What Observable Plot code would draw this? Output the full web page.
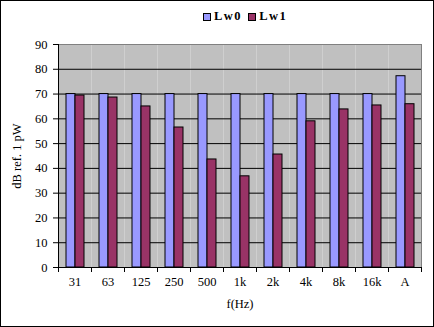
<!DOCTYPE html>
<html><head><meta charset="utf-8">
<script src="https://cdn.jsdelivr.net/npm/d3@7"></script>
<script src="https://cdn.jsdelivr.net/npm/@observablehq/plot@0.6"></script>
<style>
body{margin:0;background:#fff}
#chart{position:relative;width:434px;height:327px;overflow:hidden;background:#fff}
#chart svg{position:absolute;left:0;top:0}
#border{position:absolute;left:0;top:0;width:434px;height:327px;box-sizing:border-box;border:1px solid #000;pointer-events:none}
#legend{position:absolute;top:9px;left:203px;display:flex;align-items:center;font-family:'Liberation Serif','Times New Roman',serif;font-weight:bold;font-size:12.5px;letter-spacing:1.5px;color:#000}
#legend .sw{width:6px;height:6px;border:1px solid #000;margin-right:3px}
#legend .it{display:flex;align-items:center;margin-right:6px}
</style></head>
<body>
<div id="chart"><div id="legend"></div><div id="border"></div></div>
<script>
const categories = ["31","63","125","250","500","1k","2k","4k","8k","16k","A"];
const series = ["Lw0","Lw1"];
const lw0 = [70,70,70,70,70,70,70,70,70,70,77.2];
const lw1 = [69.4,68.6,65.0,56.5,43.6,36.8,45.6,59.0,63.8,65.4,65.9];
const colors = ["#9999FF","#993366"];
const yTicks = [0,10,20,30,40,50,60,70,80,90];
const gridTicks = [10,20,30,40,50,60,70,80];

const data = categories.flatMap((c,i)=>[
  {cat:c, series:"Lw0", value:lw0[i]},
  {cat:c, series:"Lw1", value:lw1[i]}
]);

const W=434, H=327, mT=44, mB=60, mL=54, mR=10;
const innerH = H-mT-mB;

const chart = Plot.plot({
  width:W, height:H, marginTop:mT, marginBottom:mB, marginLeft:mL, marginRight:mR,
  style:{fontFamily:"'Liberation Serif','Times New Roman',serif", fontSize:"12.5px", color:"#000", background:"transparent", overflow:"visible"},
  fx:{domain:categories, padding:0, tickSize:0, tickPadding:10, label:"f(Hz)", labelAnchor:"center", labelOffset:40},
  x:{domain:series, axis:null, paddingInner:0, paddingOuter:0.77},
  y:{domain:[0,90], ticks:yTicks, tickSize:5, tickPadding:6, label:"dB ref. 1 pW", labelAnchor:"center", labelOffset:46, labelArrow:"none"},
  color:{domain:series, range:colors},
  marks:[
    Plot.frame({fill:"#c0c0c0", stroke:null}),
    Plot.ruleY(gridTicks, {stroke:"#000"}),
    Plot.frame({anchor:"top", stroke:"#808080"}),
    Plot.frame({anchor:"right", stroke:"#808080", facetAnchor:"right"}),
    Plot.barY(data, {fx:"cat", x:"series", y:"value", fill:"series", stroke:"#000", strokeWidth:1}),
    Plot.frame({anchor:"left", stroke:"#000", insetTop:innerH, insetBottom:-4}),
    Plot.frame({anchor:"right", stroke:"#000", insetTop:innerH, insetBottom:-4}),
    Plot.frame({anchor:"left", stroke:"#000", facetAnchor:"left"}),
    Plot.ruleY([0], {stroke:"#000"})
  ]
});
document.getElementById("chart").prepend(chart);

const legend = document.getElementById("legend");
series.forEach((s,i)=>{
  const it = document.createElement("div"); it.className="it";
  const sw = document.createElement("div"); sw.className="sw"; sw.style.background=colors[i];
  const t = document.createElement("span"); t.textContent=s;
  it.append(sw,t); legend.append(it);
});
</script>
</body></html>
